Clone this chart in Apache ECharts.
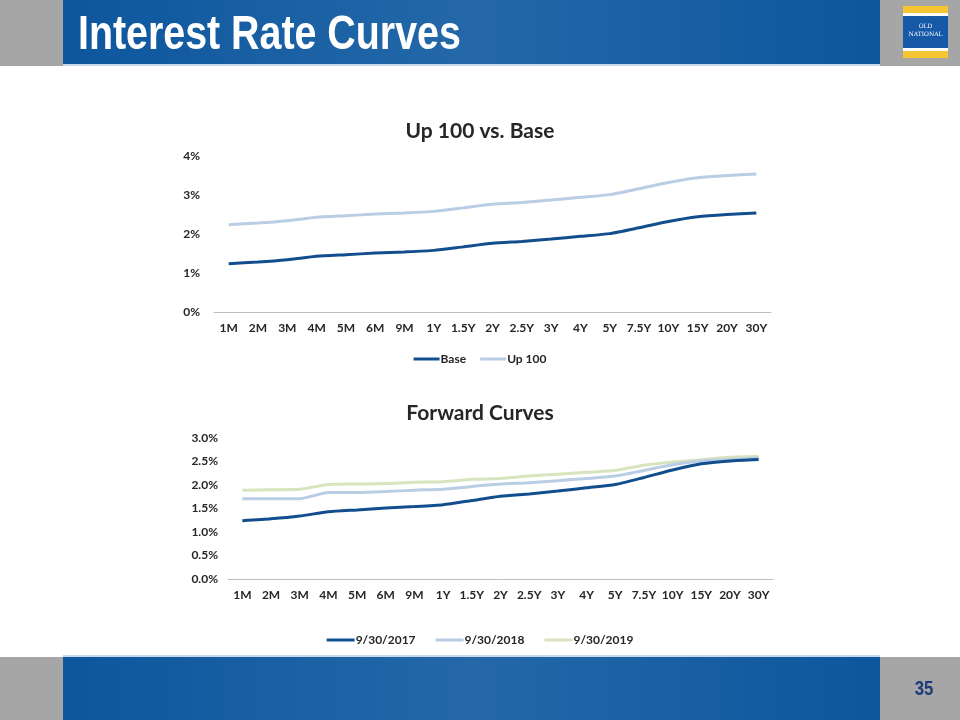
<!DOCTYPE html>
<html><head><meta charset="utf-8">
<script src="https://cdn.jsdelivr.net/npm/echarts@6/dist/echarts.min.js"></script>
<style>html,body{margin:0;padding:0;background:#fff}#c{width:960px;height:720px}</style>
</head><body><div id="c"></div>
<script>
var categories = ['1M','2M','3M','4M','5M','6M','9M','1Y','1.5Y','2Y','2.5Y','3Y','4Y','5Y','7.5Y','10Y','15Y','20Y','30Y'];
var base   = [1.24,1.28,1.34,1.43,1.47,1.51,1.54,1.58,1.67,1.76,1.81,1.87,1.94,2.01,2.16,2.32,2.44,2.50,2.54];
var up100  = [2.24,2.28,2.34,2.43,2.47,2.51,2.54,2.58,2.67,2.76,2.81,2.87,2.94,3.01,3.16,3.32,3.44,3.50,3.54];
var fwd2017 = [1.24,1.28,1.34,1.43,1.47,1.51,1.54,1.58,1.67,1.76,1.81,1.87,1.94,2.01,2.16,2.32,2.45,2.51,2.54];
var fwd2018 = [1.71,1.71,1.71,1.84,1.84,1.86,1.89,1.91,1.97,2.02,2.05,2.09,2.14,2.19,2.31,2.43,2.51,2.54,2.58];
var fwd2019 = [1.89,1.90,1.91,2.01,2.02,2.03,2.06,2.07,2.12,2.14,2.19,2.23,2.27,2.31,2.42,2.49,2.54,2.59,2.61];
var topTicks = ['0%','1%','2%','3%','4%'];
var bottomTicks = ['0.0%','0.5%','1.0%','1.5%','2.0%','2.5%','3.0%'];

var FONT = 'Lato, "Open Sans", sans-serif';
var C_BASE = '#124E8E', C_UP = '#B9CDE5', C_2019 = '#D7E4BD';
var chart = echarts.init(document.getElementById('c'), null, {renderer:'canvas'});
var lbl = {fontFamily:FONT, fontWeight:'bold', fontSize:12, color:'#262626'};
function xAx(gi){return {type:'category', gridIndex:gi, data:categories, boundaryGap:true,
  axisLine:{lineStyle:{color:'#BFBFBF', width:1}}, axisTick:{show:false},
  axisLabel:Object.assign({margin:10, interval:0}, lbl)};}
var barGrad = function(){return new echarts.graphic.LinearGradient(0,0,1,0,[{offset:0,color:'#0D569E'},{offset:0.5,color:'#2468A8'},{offset:1,color:'#0D569E'}]);};
option = {
  animation:false,
  title:[
    {text:'Up 100 vs. Base', left:'center', top:116, textStyle:{fontFamily:FONT, fontWeight:'bold', fontSize:21, color:'#262626'}},
    {text:'Forward Curves', left:'center', top:398, textStyle:{fontFamily:FONT, fontWeight:'bold', fontSize:21, color:'#262626'}}
  ],
  legend:[
    {data:['Base','Up 100'], left:'center', top:348, itemWidth:26, itemHeight:3, itemGap:14, icon:'rect',
     textStyle:Object.assign({padding:[0,0,0,-4]}, lbl)},
    {data:['9/30/2017','9/30/2018','9/30/2019'], left:'center', top:629, itemWidth:28, itemHeight:3, itemGap:20, icon:'rect',
     textStyle:Object.assign({padding:[0,0,0,-4]}, lbl)}
  ],
  grid:[
    {left:214, right:189, top:156, bottom:408},
    {left:228, right:187, top:438, bottom:141}
  ],
  xAxis:[xAx(0), xAx(1)],
  yAxis:[
    {type:'value', gridIndex:0, min:0, max:4, interval:1, splitLine:{show:false}, axisLine:{show:false}, axisTick:{show:false},
     axisLabel:Object.assign({margin:14, formatter:function(v){return topTicks[Math.round(v)];}}, lbl)},
    {type:'value', gridIndex:1, min:0, max:3, interval:0.5, splitLine:{show:false}, axisLine:{show:false}, axisTick:{show:false},
     axisLabel:Object.assign({margin:10, formatter:function(v){return bottomTicks[Math.round(v*2)];}}, lbl)}
  ],
  series:[
    {name:'Up 100', type:'line', xAxisIndex:0, yAxisIndex:0, data:up100, symbol:'none', smooth:0.2, lineStyle:{color:C_UP, width:3}, itemStyle:{color:C_UP}},
    {name:'Base', type:'line', xAxisIndex:0, yAxisIndex:0, data:base, symbol:'none', smooth:0.2, lineStyle:{color:C_BASE, width:3}, itemStyle:{color:C_BASE}},
    {name:'9/30/2019', type:'line', xAxisIndex:1, yAxisIndex:1, data:fwd2019, symbol:'none', smooth:0.2, lineStyle:{color:C_2019, width:3}, itemStyle:{color:C_2019}},
    {name:'9/30/2018', type:'line', xAxisIndex:1, yAxisIndex:1, data:fwd2018, symbol:'none', smooth:0.2, lineStyle:{color:C_UP, width:3}, itemStyle:{color:C_UP}},
    {name:'9/30/2017', type:'line', xAxisIndex:1, yAxisIndex:1, data:fwd2017, symbol:'none', smooth:0.2, lineStyle:{color:C_BASE, width:3}, itemStyle:{color:C_BASE}}
  ],
  graphic:[
    {type:'rect', shape:{x:0,y:0,width:960,height:66}, style:{fill:'#A6A6A6'}, z:-1},
    {type:'rect', shape:{x:63,y:0,width:817,height:66}, style:{fill:barGrad()}, z:-1},
    {type:'rect', shape:{x:63,y:64,width:817,height:2}, style:{fill:'#C9D9EA'}, z:0},
    {type:'text', x:78, y:36, scaleX:0.82, originX:0, originY:0,
     style:{text:'Interest Rate Curves', fill:'#fff', font:'bold 48px "Liberation Sans", Arial, sans-serif', verticalAlign:'middle'}},
    {type:'rect', shape:{x:903,y:6,width:45,height:52}, style:{fill:'#F7C531'}},
    {type:'rect', shape:{x:903,y:13,width:45,height:3}, style:{fill:'#fff'}},
    {type:'rect', shape:{x:903,y:48,width:45,height:3}, style:{fill:'#fff'}},
    {type:'rect', shape:{x:903,y:16,width:45,height:32}, style:{fill:'#1659A6'}},
    {type:'text', x:925.5, y:26, style:{text:'OLD', fill:'#fff', font:'6px "DejaVu Serif", serif', align:'center', verticalAlign:'middle'}},
    {type:'text', x:925.5, y:34, style:{text:'NATIONAL', fill:'#fff', font:'6px "DejaVu Serif", serif', align:'center', verticalAlign:'middle'}},
    {type:'rect', shape:{x:0,y:657,width:960,height:63}, style:{fill:'#A6A6A6'}, z:-1},
    {type:'rect', shape:{x:63,y:657,width:817,height:63}, style:{fill:barGrad()}, z:-1},
    {type:'rect', shape:{x:63,y:655,width:817,height:2}, style:{fill:'#C9D9EA'}, z:0},
    {type:'text', x:924, y:689, scaleX:0.8, originX:0, originY:0,
     style:{text:'35', fill:'#1F3A78', font:'bold 21px "Liberation Sans", Arial, sans-serif', align:'center', verticalAlign:'middle'}}
  ]
};
chart.setOption(option);
</script></body></html>
